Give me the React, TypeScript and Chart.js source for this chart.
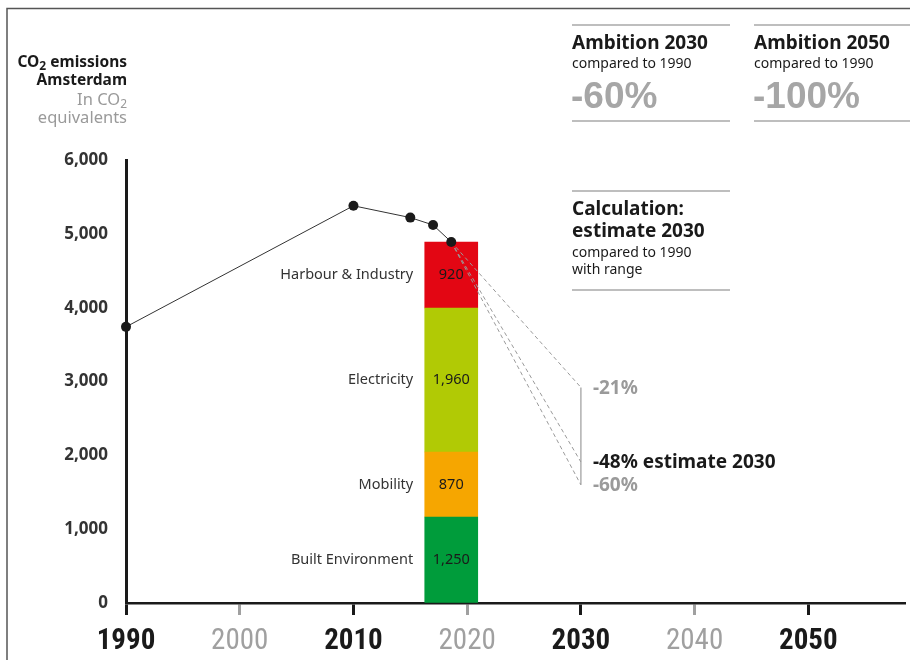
import React, { useEffect, useRef } from "react";
import { Chart, registerables } from "chart.js";

Chart.register(...registerables);

// ---- data ----
const lineYears = [1990, 2010, 2015, 2017, 2018.6];
const lineValues = [3740, 5380, 5220, 5120, 4890];

const barYear = 2018.6;
const sectorNames = ["Built Environment", "Mobility", "Electricity", "Harbour & Industry"];
const sectorValues = [1165, 880, 1950, 895];
const sectorLabels = ["1,250", "870", "1,960", "920"];
const sectorColors = ["#009c3b", "#f6a600", "#b1ca05", "#e30613"];

const estimateYear = 2030;
const estimateValues = [2920, 1910, 1600];
const estimateLabels = ["-21%", "-48% estimate 2030", "-60%"];
const estimateLabelColors = ["#9a9a9a", "#1a1a1a", "#9a9a9a"];

const xTickYears = [1990, 2000, 2010, 2020, 2030, 2040, 2050];
const mutedYears = [2000, 2020, 2040];
const yTicks = [0, 1000, 2000, 3000, 4000, 5000, 6000];

const SANS = "'Noto Sans', Lato, sans-serif";
const NARROW = "'Liberation Sans Narrow', 'Roboto Condensed', Roboto, sans-serif";

function drawCO2(ctx: CanvasRenderingContext2D, pre: string, post: string, xRight: number, y: number, size: number, weight: string, color: string) {
  ctx.fillStyle = color;
  ctx.textBaseline = "middle";
  ctx.textAlign = "left";
  ctx.font = `${weight} ${size}px ${SANS}`;
  const w1 = ctx.measureText(pre).width;
  const w3 = ctx.measureText(post).width;
  ctx.font = `${weight} ${Math.round(size * 0.75)}px ${SANS}`;
  const w2 = ctx.measureText("2").width;
  let x = xRight - (w1 + w2 + w3);
  ctx.font = `${weight} ${size}px ${SANS}`;
  ctx.fillText(pre, x, y);
  x += w1;
  ctx.font = `${weight} ${Math.round(size * 0.75)}px ${SANS}`;
  ctx.fillText("2", x, y + size * 0.25);
  x += w2;
  ctx.font = `${weight} ${size}px ${SANS}`;
  ctx.fillText(post, x, y);
}

const overlayPlugin = {
  id: "overlay",
  beforeDraw(chart: any) {
    const ctx = chart.ctx as CanvasRenderingContext2D;
    ctx.save();
    ctx.strokeStyle = "#555";
    ctx.lineWidth = 1.5;
    ctx.beginPath();
    ctx.moveTo(7, 660);
    ctx.lineTo(7, 8.5);
    ctx.lineTo(910, 8.5);
    ctx.stroke();
    ctx.restore();
  },
  afterDraw(chart: any) {
    const ctx = chart.ctx as CanvasRenderingContext2D;
    const xs = chart.scales.x;
    const ys = chart.scales.y;
    ctx.save();

    // y-axis title
    drawCO2(ctx, "CO", " emissions", 127, 63, 15.5, "bold", "#1a1a1a");
    ctx.font = `bold 15.5px ${SANS}`;
    ctx.textAlign = "right";
    ctx.fillStyle = "#1a1a1a";
    ctx.fillText("Amsterdam", 127, 81);
    drawCO2(ctx, "In CO", "", 127, 100, 16.5, "normal", "#9a9a9a");
    ctx.textAlign = "right";
    ctx.font = `normal 16.5px ${SANS}`;
    ctx.fillStyle = "#9a9a9a";
    ctx.fillText("equivalents", 127, 118);

    // bar segment labels
    const bx = xs.getPixelForValue(barYear);
    let base = 0;
    sectorValues.forEach((v, i) => {
      const yc = ys.getPixelForValue(base + v / 2);
      base += v;
      ctx.textBaseline = "middle";
      ctx.font = `normal 14.5px ${SANS}`;
      ctx.fillStyle = "#333";
      ctx.textAlign = "right";
      ctx.fillText(sectorNames[i], bx - 38, yc);
      ctx.textAlign = "center";
      ctx.fillStyle = "#1a1a1a";
      ctx.fillText(sectorLabels[i], bx, yc);
    });

    // estimate labels
    const ex = xs.getPixelForValue(estimateYear);
    estimateValues.forEach((v, i) => {
      ctx.font = `bold 19px ${SANS}`;
      ctx.fillStyle = estimateLabelColors[i];
      ctx.textAlign = "left";
      ctx.textBaseline = "middle";
      ctx.fillText(estimateLabels[i], ex + 12, ys.getPixelForValue(v) + 1);
    });

    // top-right boxes
    const rule = (x1: number, x2: number, y: number) => {
      ctx.strokeStyle = "#a8a8a8";
      ctx.lineWidth = 1.5;
      ctx.beginPath();
      ctx.moveTo(x1, y);
      ctx.lineTo(x2, y);
      ctx.stroke();
    };
    const boxes = [
      { x: 572, x2: 730, title: "Ambition 2030", pct: "-60%" },
      { x: 754, x2: 910, title: "Ambition 2050", pct: "-100%" },
    ];
    boxes.forEach((b) => {
      rule(b.x, b.x2, 25);
      rule(b.x, b.x2, 121);
      ctx.textAlign = "left";
      ctx.textBaseline = "middle";
      ctx.fillStyle = "#1a1a1a";
      ctx.font = `bold 19px ${SANS}`;
      ctx.fillText(b.title, b.x, 44);
      ctx.font = `normal 14px ${SANS}`;
      ctx.fillText("compared to 1990", b.x, 64);
      ctx.fillStyle = "#a6a6a6";
      ctx.font = `bold 37px 'Liberation Sans', Arial, sans-serif`;
      ctx.fillText(b.pct, b.x - 1, 98);
    });
    rule(572, 730, 191);
    rule(572, 730, 290);
    ctx.textAlign = "left";
    ctx.textBaseline = "middle";
    ctx.fillStyle = "#1a1a1a";
    ctx.font = `bold 19px ${SANS}`;
    ctx.fillText("Calculation:", 572, 210);
    ctx.fillText("estimate 2030", 572, 232);
    ctx.font = `normal 14px ${SANS}`;
    ctx.fillText("compared to 1990", 572, 253);
    ctx.fillText("with range", 572, 270);

    ctx.restore();
  },
};

export default function App() {
  const ref = useRef<HTMLCanvasElement | null>(null);

  useEffect(() => {
    if (!ref.current) return;
    let base = 0;
    const barSets = sectorValues.map((v, i) => {
      const start = base;
      base += v;
      return {
        type: "bar" as const,
        label: sectorNames[i],
        data: [{ x: barYear, y: [start, base] }],
        backgroundColor: sectorColors[i],
        borderWidth: 0,
        barThickness: 53,
        grouped: false,
        order: 10,
      };
    });
    const dashSets = estimateValues.map((v) => ({
      type: "line" as const,
      label: "estimate",
      data: [
        { x: lineYears[lineYears.length - 1], y: lineValues[lineValues.length - 1] },
        { x: estimateYear, y: v },
      ],
      borderColor: "#9a9a9a",
      borderWidth: 1,
      borderDash: [4, 3],
      pointRadius: 0,
      order: 2,
    }));
    const rangeSet = {
      type: "line" as const,
      label: "range",
      data: [
        { x: estimateYear, y: estimateValues[0] },
        { x: estimateYear, y: estimateValues[estimateValues.length - 1] },
      ],
      borderColor: "#b0b0b0",
      borderWidth: 1.5,
      pointRadius: 0,
      order: 3,
    };
    const lineSet = {
      type: "line" as const,
      label: "emissions",
      data: lineYears.map((x, i) => ({ x, y: lineValues[i] })),
      borderColor: "#333",
      borderWidth: 1,
      pointRadius: 5,
      pointBackgroundColor: "#1a1a1a",
      pointBorderWidth: 0,
      clip: false as any,
      order: 1,
    };

    const chart = new Chart(ref.current, {
      type: "bar",
      data: { datasets: [...barSets, ...dashSets, rangeSet, lineSet] as any },
      options: {
        responsive: false,
        animation: false,
        devicePixelRatio: 1,
        layout: { padding: { top: 160, left: 0, right: 0, bottom: 0 } },
        plugins: { legend: { display: false }, tooltip: { enabled: false } },
        scales: {
          x: {
            type: "linear",
            min: 1990,
            max: 2058.5,
            offset: false,
            afterBuildTicks: (s: any) => {
              s.ticks = xTickYears.map((v) => ({ value: v }));
            },
            afterFit: (s: any) => {
              s.height = 57;
            },
            border: { display: true, color: "#1a1a1a", width: 2.5 },
            grid: {
              offset: false,
              drawOnChartArea: false,
              drawTicks: true,
              tickLength: 12,
              tickWidth: 3,
              tickColor: (c: any) => (mutedYears.includes(c.tick?.value) ? "#a0a0a0" : "#1a1a1a"),
            },
            ticks: {
              padding: 9,
              autoSkip: false,
              maxRotation: 0,
              callback: (v: any) => String(v),
              color: (c: any) => (mutedYears.includes(c.tick?.value) ? "#a0a0a0" : "#1a1a1a"),
              font: (c: any) => ({
                family: NARROW,
                size: 29,
                weight: mutedYears.includes(c.tick?.value) ? "normal" : "bold",
              }),
            },
          },
          y: {
            type: "linear",
            min: 0,
            max: 6000,
            afterBuildTicks: (s: any) => {
              s.ticks = yTicks.map((v) => ({ value: v }));
            },
            afterFit: (s: any) => {
              s.width = 126;
            },
            border: { display: true, color: "#1a1a1a", width: 3 },
            grid: { drawOnChartArea: false, drawTicks: false },
            ticks: {
              padding: 18,
              color: "#333",
              font: { family: SANS, size: 17, weight: "bold" },
              callback: (v: any) => Number(v).toLocaleString("en-US"),
            },
          },
        },
      } as any,
      plugins: [overlayPlugin],
    });
    return () => chart.destroy();
  }, []);

  return (
    <div style={{ position: "absolute", left: 0, top: 0, width: 910, height: 660, background: "#fff" }}>
      <canvas ref={ref} width={910} height={660} style={{ display: "block", width: 910, height: 660 }} />
    </div>
  );
}
